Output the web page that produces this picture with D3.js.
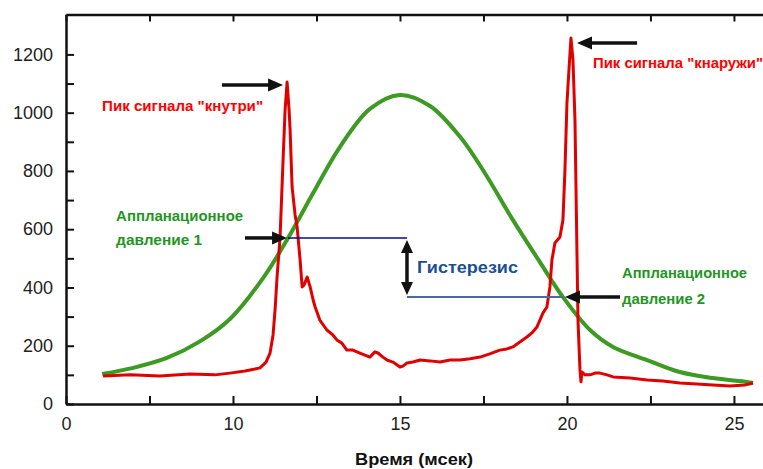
<!DOCTYPE html>
<html>
<head>
<meta charset="utf-8">
<script src="https://cdn.jsdelivr.net/npm/d3@7"></script>
<style>
  body { margin: 0; background: #fff; }
  svg text { font-family: "Liberation Sans", Arial, sans-serif; }
</style>
</head>
<body>
<div id="chart"></div>
<script>
// red signal (time in ms, amplitude)
const redTime = [6.11, 6.92, 7.81, 8.71, 9.46, 9.91, 10.36, 10.66, 10.81, 10.99, 11.11, 11.20, 11.26, 11.32, 11.41, 11.50, 11.56, 11.62,
  11.68, 11.71, 11.77, 11.86, 11.92, 12.01, 12.07, 12.13, 12.22, 12.31, 12.40, 12.46, 12.60, 12.81, 12.99, 13.11, 13.26, 13.41,
  13.59, 13.80, 13.95, 14.10, 14.25, 14.34, 14.49, 14.61, 14.79, 15.00, 15.09, 15.21, 15.39, 15.60, 15.90, 16.20, 16.50, 16.80,
  17.10, 17.40, 17.69, 17.99, 18.20, 18.38, 18.59, 18.80, 18.95, 19.10, 19.19, 19.28, 19.40, 19.49, 19.55, 19.64, 19.79, 19.88,
  19.94, 20.00, 20.06, 20.12, 20.18, 20.24, 20.30, 20.33, 20.39, 20.42, 20.45, 20.54, 20.69, 20.84, 20.99, 21.20, 21.38, 21.89,
  22.40, 22.87, 23.38, 23.89, 24.37, 24.88, 25.33, 25.57]
const redValue = [96, 100, 96, 103, 100, 106, 113, 120, 124, 144, 175, 237, 323, 436, 573, 838, 1009, 1105,
  1009, 941, 745, 649, 608, 494, 402, 409, 436, 402, 357, 333, 288, 254, 237, 220, 209, 185,
  185, 175, 168, 161, 179, 175, 161, 151, 144, 127, 130, 141, 144, 151, 148, 144, 151, 151,
  155, 161, 172, 185, 189, 196, 213, 230, 244, 264, 288, 312, 333, 402, 494, 553, 573, 632,
  803, 1033, 1147, 1256, 1181, 975, 518, 288, 117, 76, 110, 100, 100, 106, 106, 100, 93, 89,
  82, 79, 72, 69, 65, 62, 65, 72]

// green applanation curve
const greenTime = [6.08, 7.01, 8.02, 9.01, 9.91, 10.90, 11.65, 12.40, 13.20, 14.10, 15.00, 15.90, 16.80, 17.54, 18.38,
  19.19, 19.88, 20.69, 21.38, 22.40, 23.38, 24.37, 25.39, 25.57]
const greenValue = [103, 124, 158, 215, 292, 432, 570, 724, 882, 1013, 1061, 1023, 917, 793, 632,
  487, 367, 254, 196, 151, 110, 89, 76, 72]

// axes
const xTicks = [5, 7.5, 10, 12.5, 15, 17.5, 20, 22.5, 25]
const xTickLabels = ["0", "", "10", "", "15", "", "20", "", "25"]
const yTicks = [0, 100, 200, 300, 400, 500, 600, 700, 800, 900, 1000, 1100, 1200]
const yTickLabels = ["0", "", "200", "", "400", "", "600", "", "800", "", "1000", "", "1200"]

// hysteresis levels
const hystLevels = [570, 367]
const hystTimes = [11.65, 15.21, 19.88]

const width = 763, height = 469

const svg = d3.select("#chart")
  .append("svg")
  .attr("width", width)
  .attr("height", height)

const x = d3.scaleLinear().domain([5, 25.87]).range([66, 763])
const y = d3.scaleLinear().domain([0, 1337]).range([404, 14.5])

// bottom axis
svg.append("g")
  .attr("transform", "translate(0," + y(0) + ")")
  .call(d3.axisBottom(x).tickValues(xTicks).tickSize(-8).tickSizeOuter(0).tickPadding(13)
    .tickFormat((d, i) => xTickLabels[i]))
// top frame
svg.append("g")
  .attr("transform", "translate(0," + y(1337) + ")")
  .call(d3.axisTop(x).tickValues(xTicks).tickSize(-7).tickSizeOuter(0).tickFormat(""))
// left axis
svg.append("g")
  .attr("transform", "translate(" + x(5) + ",0)")
  .call(d3.axisLeft(y).tickValues(yTicks).tickSize(-8).tickSizeOuter(0).tickPadding(13)
    .tickFormat((d, i) => yTickLabels[i]))

svg.selectAll(".domain").attr("stroke", "#111").attr("stroke-width", 2.5)
svg.selectAll(".tick line").attr("stroke", "#111").attr("stroke-width", 2)
svg.selectAll(".tick text").attr("font-size", 18).attr("fill", "#222")
  .style("font-family", "'Liberation Sans', Arial, sans-serif")

svg.append("text")
  .attr("x", 414).attr("y", 465)
  .attr("text-anchor", "middle")
  .attr("font-size", 17).attr("font-weight", "bold").attr("fill", "#111")
  .attr("textLength", 118).attr("lengthAdjust", "spacingAndGlyphs")
  .text("Время (мсек)")

// curves
svg.append("path")
  .attr("fill", "none")
  .attr("stroke", "#3d9a22")
  .attr("stroke-width", 4)
  .attr("d", d3.line().x(d => x(d[0])).y(d => y(d[1])).curve(d3.curveCatmullRom)(d3.zip(greenTime, greenValue)))

svg.append("path")
  .attr("fill", "none")
  .attr("stroke", "#e00000")
  .attr("stroke-width", 3)
  .attr("stroke-linejoin", "round")
  .attr("d", d3.line().x(d => x(d[0])).y(d => y(d[1]))(d3.zip(redTime, redValue)))

// hysteresis lines
svg.append("line")
  .attr("x1", x(hystTimes[0])).attr("x2", x(hystTimes[1]))
  .attr("y1", y(hystLevels[0])).attr("y2", y(hystLevels[0]))
  .attr("stroke", "#0a0a8c").attr("stroke-width", 1.5)
svg.append("line")
  .attr("x1", x(hystTimes[1])).attr("x2", x(hystTimes[2]))
  .attr("y1", y(hystLevels[1])).attr("y2", y(hystLevels[1]))
  .attr("stroke", "#4d6aa8").attr("stroke-width", 2)

// arrows
function hArrow(t1, t2, v) {
  const x1 = x(t1), x2 = x(t2), yy = y(v)
  const dir = x2 > x1 ? 1 : -1
  svg.append("line")
    .attr("x1", x1).attr("x2", x2 - dir * 12)
    .attr("y1", yy).attr("y2", yy)
    .attr("stroke", "#111").attr("stroke-width", 3.5)
  svg.append("path")
    .attr("fill", "#111")
    .attr("d", `M${x2},${yy} L${x2 - dir * 15},${yy - 6.5} L${x2 - dir * 15},${yy + 6.5} Z`)
}
hArrow(9.67, 11.50, 1095)
hArrow(22.10, 20.30, 1239)
hArrow(10.36, 11.62, 570)
hArrow(21.59, 19.94, 367)

// double arrow between hysteresis levels
const dx = x(hystTimes[1]), dy1 = y(hystLevels[0]) + 2, dy2 = y(hystLevels[1]) - 2
svg.append("line")
  .attr("x1", dx).attr("x2", dx).attr("y1", dy1 + 10).attr("y2", dy2 - 10)
  .attr("stroke", "#111").attr("stroke-width", 3.5)
svg.append("path").attr("fill", "#111")
  .attr("d", `M${dx},${dy1} L${dx - 6},${dy1 + 13} L${dx + 6},${dy1 + 13} Z`)
svg.append("path").attr("fill", "#111")
  .attr("d", `M${dx},${dy2} L${dx - 6},${dy2 - 13} L${dx + 6},${dy2 - 13} Z`)

// labels
function label(t, v, txt, color, size, len) {
  svg.append("text")
    .attr("x", x(t)).attr("y", y(v))
    .attr("font-size", size).attr("font-weight", "bold").attr("fill", color)
    .attr("textLength", len).attr("lengthAdjust", "spacingAndGlyphs")
    .text(txt)
}
label(6.08, 1006, "Пик сигнала \"кнутри\"", "#ff0000", 14, 161)
label(20.78, 1153, "Пик сигнала \"кнаружи\"", "#ff0000", 14, 170)
label(6.50, 628, "Аппланационное", "#1f961f", 15, 127)
label(6.50, 546, "давление 1", "#1f961f", 15, 86)
label(21.65, 433, "Аппланационное", "#1f961f", 15, 125)
label(21.65, 343, "давление 2", "#1f961f", 15, 83)
label(15.51, 450, "Гистерезис", "#1b4f91", 17, 101)
</script>
</body>
</html>
